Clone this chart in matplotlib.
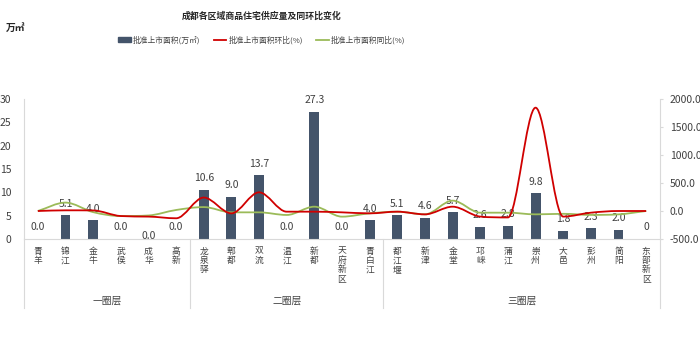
import numpy as np
import matplotlib
matplotlib.use("Agg")
import matplotlib.pyplot as plt
from matplotlib.path import Path
from matplotlib.patches import PathPatch
from matplotlib.lines import Line2D
from matplotlib.patches import Patch
import matplotlib.transforms as mtransforms

plt.rcParams['font.family'] = ['Noto Sans CJK SC', 'DejaVu Sans']
plt.rcParams['axes.unicode_minus'] = False

# 数据
districts = ['青羊', '锦江', '金牛', '武侯', '成华', '高新',
             '龙泉驿', '郫都', '双流', '温江', '新都', '天府新区', '青白江',
             '都江堰', '新津', '金堂', '邛崃', '蒲江', '崇州', '大邑', '彭州', '简阳', '东部新区']
groups = ['一圈层', '二圈层', '三圈层']
group_sizes = [6, 7, 10]
area = [0.0, 5.1, 4.0, 0.0, 0.0, 0.0,
        10.6, 9.0, 13.7, 0.0, 27.3, 0.0, 4.0,
        5.1, 4.6, 5.7, 2.6, 2.8, 9.8, 1.8, 2.3, 2.0, 0]
area_labels = ['0.0', '5.1', '4.0', '0.0', '0.0', '0.0',
               '10.6', '9.0', '13.7', '0.0', '27.3', '0.0', '4.0',
               '5.1', '4.6', '5.7', '2.6', '2.8', '9.8', '1.8', '2.3', '2.0', '0']
hb = [0, 12, 10, -90, -100, -130,
      240, -42, 333, -12, -12, -24, -42,
      -12, -60, 77, -100, -115, 1845, -100, -30, 0, 0]
tb = [0, 150, -20, -90, -80, 18,
      70, -24, -24, -71, 77, -101, -42,
      -12, -60, 185, -30, -30, -60, -50, -70, -60, 0]

bar_color = '#44546a'
red = '#d00000'
green = '#9bbb59'
grey = '#d9d9d9'

fig = plt.figure(figsize=(7, 3.52), dpi=100)
ax = fig.add_axes([24/700, 1-239/352, 636/700, 140/352])
ax2 = ax.twinx()

x = np.arange(len(districts))
ax.bar(x, area, width=0.36, color=bar_color, zorder=2)
ax.set_xlim(-0.5, len(districts)-0.5)
ax.set_ylim(0, 30)
ax.set_yticks(range(0, 31, 5))
ax2.set_ylim(-500, 2000)
ax2.set_yticks(range(-500, 2001, 500))
ax2.set_yticklabels([f'{v:.1f}' for v in range(-500, 2001, 500)])

# 数据标签
for i, (v, s) in enumerate(zip(area, area_labels)):
    off = 3 if districts[i] == '成华' else 11.5
    ax.annotate(s, (i, v), xytext=(0, off), textcoords='offset pixels',
                ha='center', va='center', fontsize=7.5, color='#404040', zorder=5)


def smooth_path(xs, ys):
    # 平滑曲线：单调三次 Hermite 转贝塞尔
    xs = np.asarray(xs, float)
    ys = np.asarray(ys, float)
    n = len(xs)
    d = np.diff(ys) / np.diff(xs)
    m = np.zeros(n)
    m[0], m[-1] = d[0], d[-1]
    for i in range(1, n-1):
        if d[i-1] * d[i] <= 0:
            m[i] = 0
        else:
            m[i] = (d[i-1] + d[i]) / 2
    for i in range(n-1):
        if d[i] == 0:
            m[i] = m[i+1] = 0
            continue
        a, b = m[i]/d[i], m[i+1]/d[i]
        s = a*a + b*b
        if s > 9:
            t = 3/np.sqrt(s)
            m[i], m[i+1] = t*a*d[i], t*b*d[i]
    verts = [(xs[0], ys[0])]
    codes = [Path.MOVETO]
    for i in range(n-1):
        h = xs[i+1] - xs[i]
        verts += [(xs[i] + h/3, ys[i] + m[i]*h/3),
                  (xs[i+1] - h/3, ys[i+1] - m[i+1]*h/3),
                  (xs[i+1], ys[i+1])]
        codes += [Path.CURVE4]*3
    return Path(verts, codes)


ax2.add_patch(PathPatch(smooth_path(x, tb), fill=False, edgecolor=green, lw=1.3, zorder=3))
ax2.add_patch(PathPatch(smooth_path(x, hb), fill=False, edgecolor=red, lw=1.3, zorder=4))

for a in (ax, ax2):
    for s in a.spines.values():
        s.set_color(grey)
    a.spines['top'].set_visible(False)
ax.spines['right'].set_visible(False)
ax2.spines['left'].set_visible(False)
ax2.spines['bottom'].set_visible(False)
ax.tick_params(axis='y', length=0, pad=9, labelsize=7.5, labelcolor='#404040')
ax2.tick_params(axis='y', length=2, color=grey, pad=5, labelsize=7.5, labelcolor='#404040')
ax.set_xticks([])

# 分类标签与分组
trans = mtransforms.blended_transform_factory(ax.transData, ax.transAxes)
for i, name in enumerate(districts):
    ax.text(i, -0.055, '\n'.join(name), transform=trans, ha='center', va='top',
            fontsize=6.3, linespacing=1.05, color='#404040')
bounds = np.concatenate([[0], np.cumsum(group_sizes)]) - 0.5
for b in bounds:
    ax.add_line(Line2D([b, b], [0, -0.49], transform=trans, color=grey, lw=0.8, clip_on=False))
for g, lo, hi in zip(groups, bounds[:-1], bounds[1:]):
    ax.text((lo+hi)/2, -0.443, g, transform=trans, ha='center', va='center',
            fontsize=7, color='#404040')

fig.text(262/700, 1-16/352, '成都各区域商品住宅供应量及同环比变化', ha='center', va='center',
         fontsize=6.4, fontweight='bold', color='#262626')
fig.text(6/700, 1-28/352, '万㎡', ha='left', va='center', fontsize=7, fontweight='bold',
         color='#262626')

handles = [Patch(color=bar_color), Line2D([], [], color=red, lw=1.3), Line2D([], [], color=green, lw=1.3)]
fig.legend(handles, ['批准上市面积(万㎡)', '批准上市面积环比(%)', '批准上市面积同比(%)'],
           loc='center', bbox_to_anchor=(262/700, 1-40/352), ncol=3, frameon=False,
           fontsize=5.6, handlelength=1.6, handleheight=0.5, columnspacing=1.7,
           handletextpad=0.3, labelcolor='#404040')

fig.savefig('out.png', dpi=100)
